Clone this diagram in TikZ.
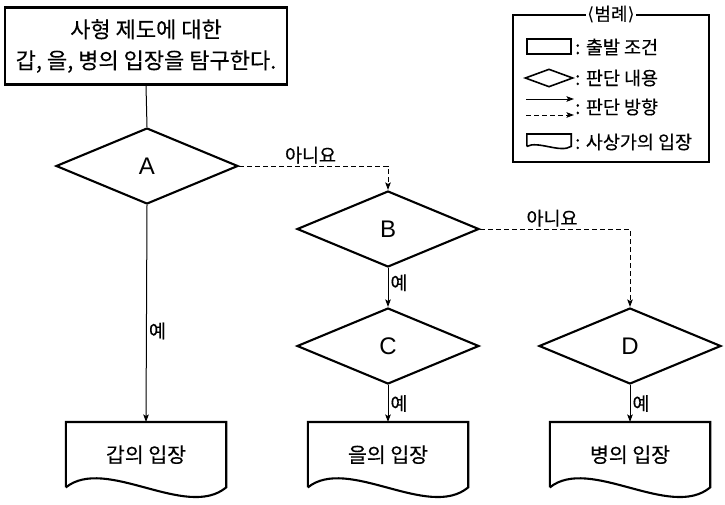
\documentclass[tikz,border=0pt]{standalone}
\usepackage{fontspec}
\setmainfont{Noto Sans CJK KR}[FakeBold=0.3]
\newfontfamily\latinf{Liberation Sans}
\newfontfamily\brkf{DejaVu Sans}
\usetikzlibrary{shapes.geometric,arrows.meta,calc}
\begin{document}
\begin{tikzpicture}[x=1pt,y=-1pt,
  shapeline/.style={line width=2.1pt},
  conn/.style={line width=1pt},
  arr/.style={-{Stealth[length=7.5pt,width=5.5pt,inset=1.5pt]}},
  dashconn/.style={dash pattern=on 5pt off 3pt},
  decision/.style={diamond, draw, shapeline, minimum width=182pt, minimum height=76pt, inner sep=0pt, font=\latinf\fontsize{24}{24}\selectfont},
  docnode/.style={minimum width=160pt, minimum height=65pt, inner sep=0pt, anchor=north, font=\fontsize{20.5}{20.5}\selectfont},
  lab/.style={font=\fontsize{18.5}{18.5}\selectfont, inner sep=2pt},
  legtext/.style={anchor=west, inner sep=0pt, font=\fontsize{18.5}{18.5}\selectfont}
]
\useasboundingbox (0,0) rectangle (725,504);

% start box
\node[draw, shapeline, minimum width=282pt, minimum height=77pt, align=center,
  font=\fontsize{22}{31}\selectfont] (top) at (146,46) {사형 제도에 대한\\갑, 을, 병의 입장을 탐구한다.};

% decisions
\node[decision] (A) at (147,166) {A};
\node[decision] (B) at (388,229) {B};
\node[decision] (C) at (388,346) {C};
\node[decision] (D) at (630,346) {D};

% documents
\node[docnode] (d1) at (146,422) {갑의 입장};
\node[docnode] (d2) at (388,422) {을의 입장};
\node[docnode] (d3) at (630,422) {병의 입장};
\foreach \d in {d1,d2,d3}
  \draw[shapeline] (\d.south west) -- (\d.north west) -- (\d.north east) -- (\d.south east)
    .. controls ($(\d.south east)+(-40,33)$) and ($(\d.south west)+(40,-32)$) .. (\d.south west);

% connectors
\draw[conn] (top.south) -- (A.north);
\draw[conn,arr] (A.south) -- node[lab,right,pos=0.58]{예} (d1.north);
\draw[conn,arr,dashconn] (A.east) -| node[lab,above,pos=0.24]{아니요} (B.north);
\draw[conn,arr] (B.south) -- node[lab,right,pos=0.38]{예} (C.north);
\draw[conn,arr,dashconn] (B.east) -| node[lab,above,pos=0.24]{아니요} (D.north);
\draw[conn,arr] (C.south) -- node[lab,right,pos=0.5]{예} (d2.north);
\draw[conn,arr] (D.south) -- node[lab,right,pos=0.5]{예} (d3.north);

% legend
\node[draw, line width=1.4pt, minimum width=196pt, minimum height=147pt] (leg) at (611,88.5) {};
\node[fill=white, inner sep=1pt, font=\fontsize{18}{18}\selectfont] (legt) at (leg.north) {{\brkf ⟨}범례{\brkf ⟩}};
\node[draw, line width=1.6pt, minimum width=44pt, minimum height=15pt, inner sep=0pt] (lr) at (549,46.5) {};
\node[legtext] (lrt) at (575,47) {: 출발 조건};
\node[diamond, draw, line width=1.6pt, minimum width=48pt, minimum height=18pt, inner sep=0pt] (ld) at (549,78) {};
\node[legtext] (ldt) at (575,78) {: 판단 내용};
\coordinate (la1s) at (526,99);
\coordinate (la1e) at (574,99);
\coordinate (la2s) at (526,115);
\coordinate (la2e) at (574,115);
\draw[conn,arr] (la1s) -- (la1e);
\draw[conn,arr,dashconn] (la2s) -- (la2e);
\node[legtext] (lat) at (575,107) {: 판단 방향};
\node[minimum width=44pt, minimum height=12pt, inner sep=0pt, anchor=north] (lw) at (549,134) {};
\draw[line width=1.6pt] (lw.south west) -- (lw.north west) -- (lw.north east) -- (lw.south east)
  .. controls ($(lw.south east)+(-11,7)$) and ($(lw.south west)+(11,-6)$) .. (lw.south west);
\node[legtext] (lwt) at (575,142) {: 사상가의 입장};
\end{tikzpicture}
\end{document}
